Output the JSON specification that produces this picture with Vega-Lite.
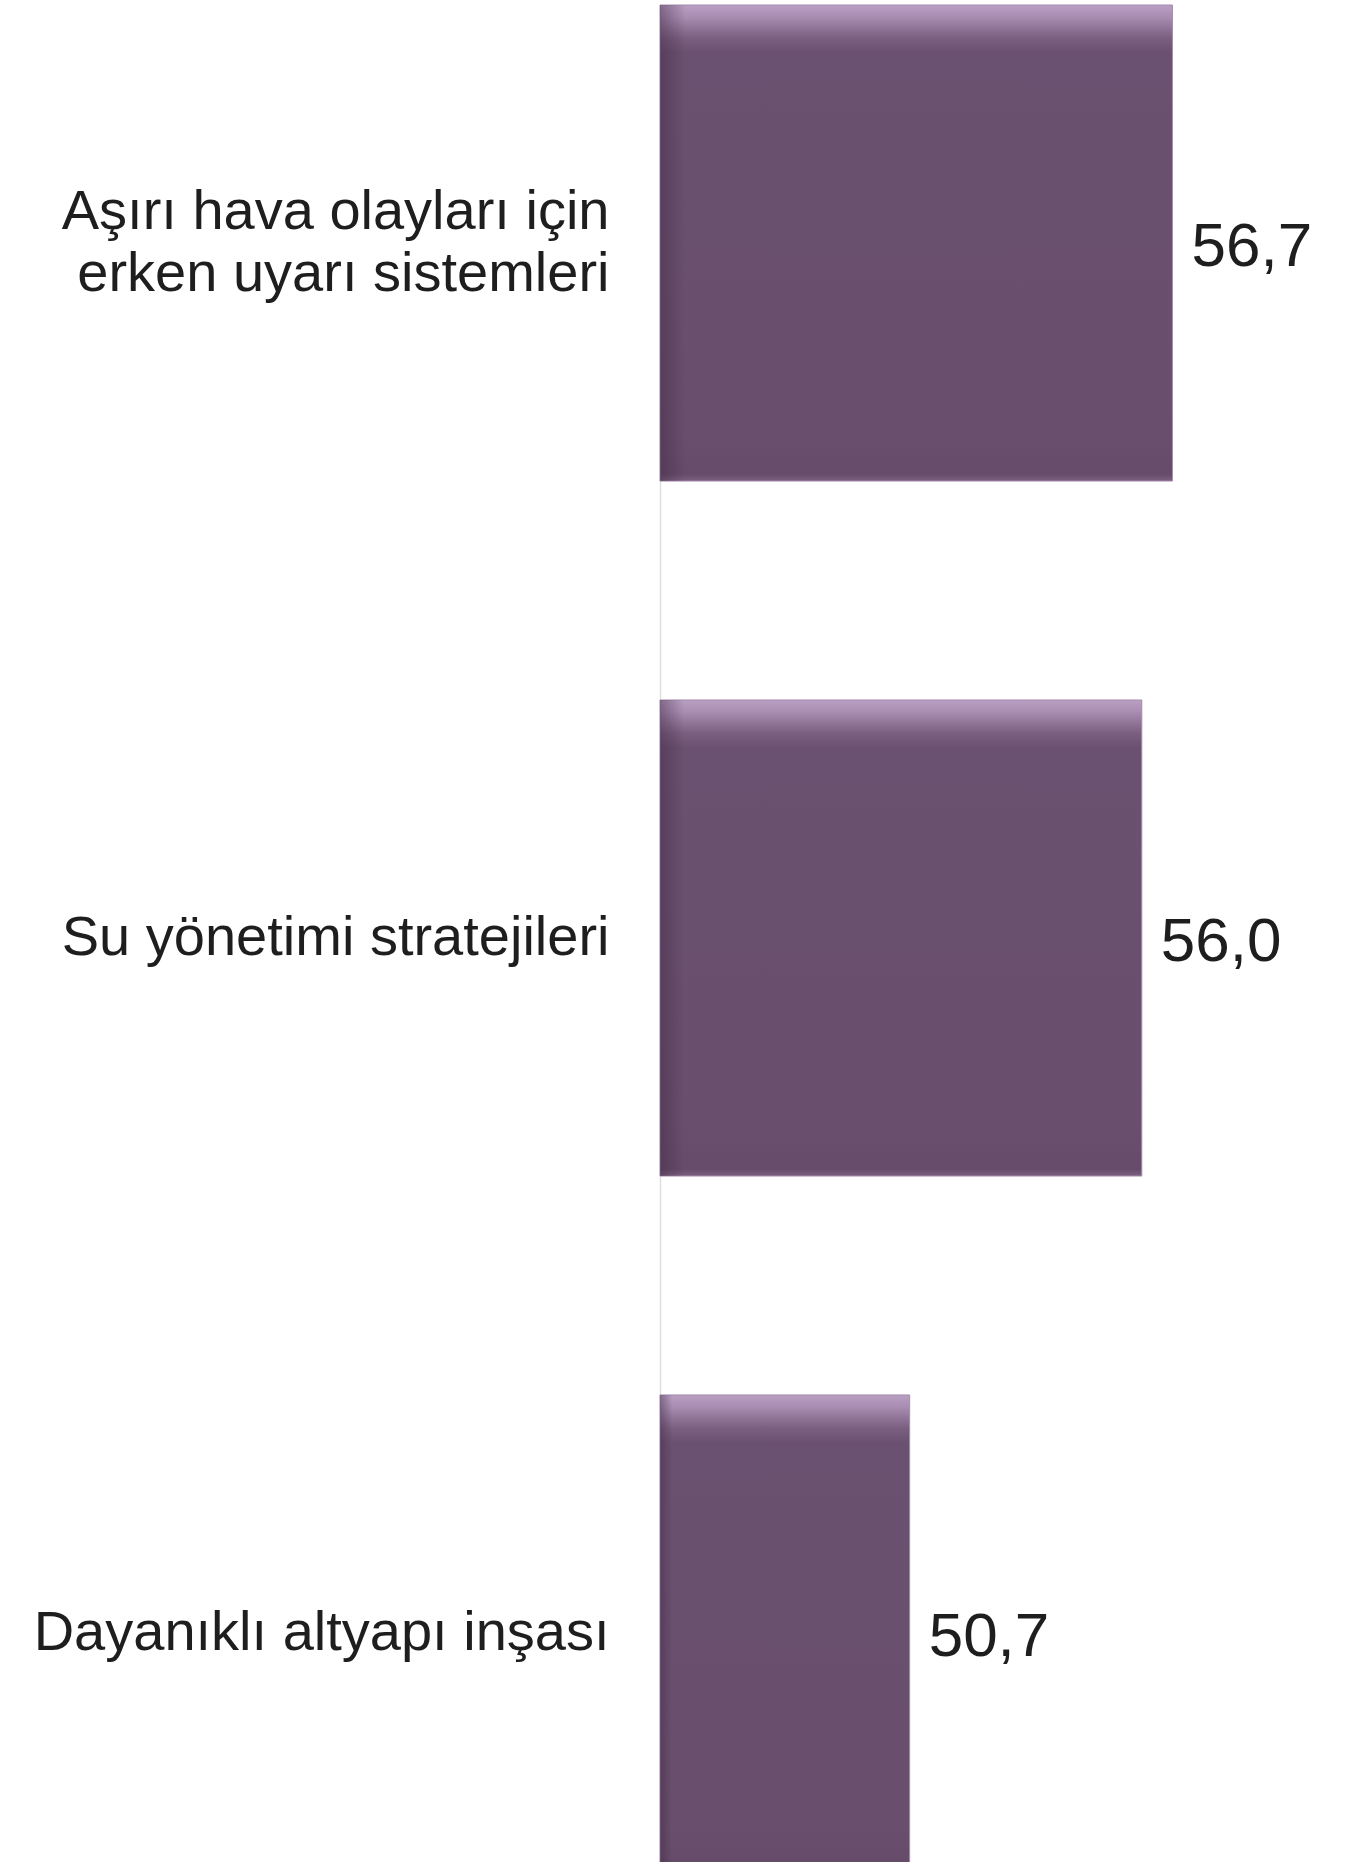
{
  "$schema": "https://vega.github.io/schema/vega-lite/v6.json",
  "autosize": {"type": "none"},
  "padding": {"left": 660, "top": 5, "right": 0, "bottom": 0},
  "width": 657,
  "height": 1866,
  "background": "white",
  "config": {
    "view": {"stroke": null},
    "locale": {"number": {"decimal": ",", "thousands": ".", "grouping": [3], "currency": ["", " ₺"]}}
  },
  "data": {
    "values": [
      {"kategori": "Aşırı hava olayları için|erken uyarı sistemleri", "deger": 56.7},
      {"kategori": "Su yönetimi stratejileri", "deger": 56.0},
      {"kategori": "Dayanıklı altyapı inşası", "deger": 50.7}
    ]
  },
  "encoding": {
    "y": {
      "field": "kategori",
      "type": "nominal",
      "sort": null,
      "scale": {"paddingInner": 0.315, "paddingOuter": 0},
      "axis": {
        "title": null,
        "ticks": false,
        "labelPadding": 51,
        "labelFont": "Liberation Sans",
        "labelFontSize": 56,
        "labelColor": "#1e1e1e",
        "labelLineHeight": 62,
        "labelLimit": 700,
        "labelExpr": "split(datum.value, '|')",
        "labelOffset": {"condition": {"test": "indexof(datum.value, '|') >= 0", "value": -31}, "value": 0},
        "domainColor": "#dedee3",
        "domainWidth": 1.5
      }
    },
    "x": {
      "field": "deger",
      "type": "quantitative",
      "scale": {"domain": [45, 60], "zero": false},
      "axis": null
    }
  },
  "layer": [
    {
      "mark": {
        "type": "bar",
        "stroke": "#a68bad",
        "strokeWidth": 1,
        "color": {
          "gradient": "linear",
          "x1": 0, "y1": 0, "x2": 0, "y2": 1,
          "stops": [
            {"offset": 0, "color": "#b9a0c3"},
            {"offset": 0.025, "color": "#a98db2"},
            {"offset": 0.07, "color": "#7a5f80"},
            {"offset": 0.1, "color": "#6b5171"},
            {"offset": 0.9, "color": "#694f6d"},
            {"offset": 0.985, "color": "#664c6a"},
            {"offset": 1, "color": "#7b6182"}
          ]
        }
      },
      "encoding": {
        "x2": {"datum": 45}
      }
    },
    {
      "mark": {
        "type": "bar",
        "strokeWidth": 0,
        "color": {
          "gradient": "linear",
          "x1": 0, "y1": 0, "x2": 1, "y2": 0,
          "stops": [
            {"offset": 0, "color": "rgba(60,40,66,0.45)"},
            {"offset": 0.05, "color": "rgba(60,40,66,0)"},
            {"offset": 1, "color": "rgba(60,40,66,0)"}
          ]
        }
      },
      "encoding": {
        "x2": {"datum": 45}
      }
    },
    {
      "mark": {
        "type": "text",
        "align": "left",
        "baseline": "middle",
        "dx": 19,
        "dy": 4,
        "font": "Liberation Sans",
        "fontSize": 62,
        "color": "#1e1e1e"
      },
      "encoding": {
        "text": {"field": "deger", "type": "quantitative", "format": ".1f"}
      }
    }
  ]
}
